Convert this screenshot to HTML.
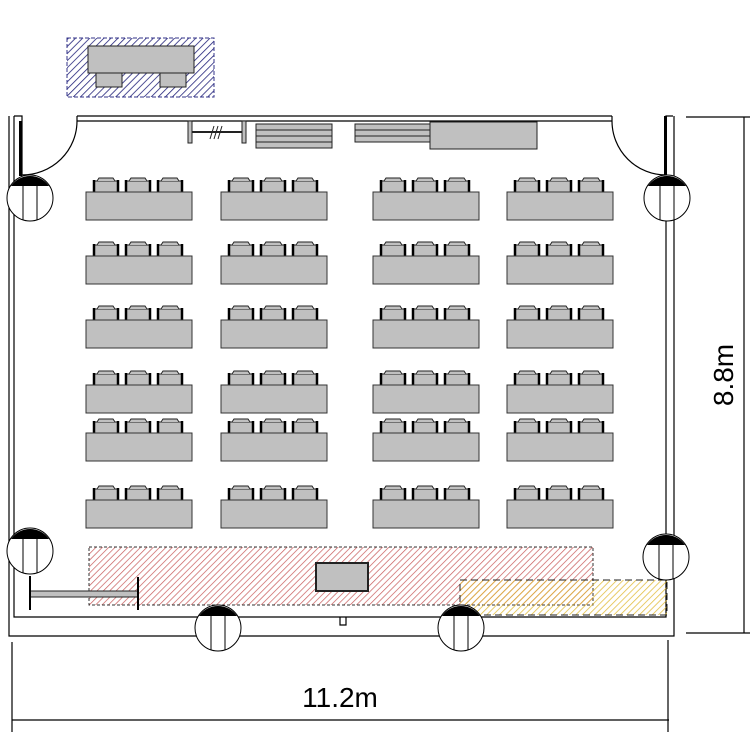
<!DOCTYPE html>
<html><head><meta charset="utf-8"><style>html,body{margin:0;padding:0;background:#fff}svg{display:block}</style></head>
<body>
<svg width="750" height="750" viewBox="0 0 750 750" xmlns="http://www.w3.org/2000/svg">
<defs>
<pattern id="hb" width="5" height="5" patternUnits="userSpaceOnUse" patternTransform="rotate(45)"><line x1="0" y1="0" x2="0" y2="5" stroke="#22227a" stroke-width="1.6"/></pattern>
<pattern id="hr" width="4.5" height="4.5" patternUnits="userSpaceOnUse" patternTransform="rotate(45)"><line x1="0" y1="0" x2="0" y2="5" stroke="#c85a5a" stroke-width="1.4"/></pattern>
<pattern id="hy" width="4.5" height="4.5" patternUnits="userSpaceOnUse" patternTransform="rotate(45)"><line x1="0" y1="0" x2="0" y2="5" stroke="#e0b830" stroke-width="1.6"/></pattern>
<g id="chair"><rect x="0" y="3" width="24" height="11" fill="#c0c0c0" stroke="#222" stroke-width="1"/><path d="M3 3 L5 0 H19 L21 3" fill="#c0c0c0" stroke="#222"/><line x1="0" y1="2" x2="0" y2="14" stroke="#000" stroke-width="2.5"/><line x1="24" y1="2" x2="24" y2="14" stroke="#000" stroke-width="2.5"/></g>
<g id="tbl"><use href="#chair" x="8" y="-14"/><use href="#chair" x="40" y="-14"/><use href="#chair" x="72" y="-14"/><rect x="0" y="0" width="106" height="28" fill="#c0c0c0" stroke="#333" stroke-width="1"/></g>
<g id="col"><circle cx="0" cy="0" r="23" fill="#fff" stroke="#000" stroke-width="1"/><path d="M-19 -12 A23 23 0 0 1 19 -12 Z" fill="#000"/><line x1="-7" y1="-12" x2="-7" y2="22" stroke="#000"/><line x1="7" y1="-12" x2="7" y2="22" stroke="#000"/></g>
</defs>

<rect x="67" y="38" width="147" height="59" fill="url(#hb)" stroke="#33338a" stroke-dasharray="4 2"/>
<rect x="96" y="72" width="26" height="15" fill="#c0c0c0" stroke="#222"/><rect x="160" y="72" width="26" height="15" fill="#c0c0c0" stroke="#222"/>
<rect x="88" y="46" width="106" height="27" fill="#c0c0c0" stroke="#222"/>

<g stroke="#000" stroke-width="1.2" fill="none">
<path d="M77 116 H612 M77 121 H612 M77 116 V121 M612 116 V121"/>
<path d="M9 116 V636 H674 V116 M14 116 H22 V140 M14 116 V617 H666 V116 H673"/>
<path d="M22 140 V175"/>
<path d="M77 121 A55 54 0 0 1 22 175"/>
<path d="M612 121 A54 54 0 0 0 666 175"/>
<path d="M340 617 V625 H346 V617"/>
</g>
<rect x="664" y="116" width="3" height="60" fill="#000"/>
<rect x="19" y="121" width="3" height="55" fill="#000"/>

<g stroke="#222" stroke-width="1">
<rect x="188" y="121" width="4" height="22" fill="#c0c0c0"/><rect x="242" y="121" width="4" height="22" fill="#c0c0c0"/>
<line x1="192" y1="132" x2="242" y2="132" stroke-width="2"/>
<path d="M210 139 L214 126 M214 139 L218 126 M218 139 L222 126"/>
<rect x="256" y="124" width="76" height="24" fill="#c0c0c0"/>
<path d="M256 130 H332 M256 136 H332 M256 142 H332"/>
<rect x="355" y="124" width="76" height="18" fill="#c0c0c0"/>
<path d="M355 130 H431 M355 136 H431"/>
<rect x="430" y="122" width="107" height="27" fill="#c0c0c0"/>
</g>

<g>
<use href="#tbl" x="86" y="192"/><use href="#tbl" x="221" y="192"/><use href="#tbl" x="373" y="192"/><use href="#tbl" x="507" y="192"/>
<use href="#tbl" x="86" y="256"/><use href="#tbl" x="221" y="256"/><use href="#tbl" x="373" y="256"/><use href="#tbl" x="507" y="256"/>
<use href="#tbl" x="86" y="320"/><use href="#tbl" x="221" y="320"/><use href="#tbl" x="373" y="320"/><use href="#tbl" x="507" y="320"/>
<use href="#tbl" x="86" y="385"/><use href="#tbl" x="221" y="385"/><use href="#tbl" x="373" y="385"/><use href="#tbl" x="507" y="385"/>
<use href="#tbl" x="86" y="433"/><use href="#tbl" x="221" y="433"/><use href="#tbl" x="373" y="433"/><use href="#tbl" x="507" y="433"/>
<use href="#tbl" x="86" y="500"/><use href="#tbl" x="221" y="500"/><use href="#tbl" x="373" y="500"/><use href="#tbl" x="507" y="500"/>
</g>

<rect x="89" y="547" width="504" height="58" fill="url(#hr)" stroke="#333" stroke-dasharray="3 2"/>
<rect x="460" y="580" width="207" height="35" fill="url(#hy)" fill-opacity="0.9" stroke="#222" stroke-dasharray="7 4"/>
<rect x="316" y="563" width="52" height="28" fill="#c0c0c0" stroke="#222" stroke-width="2"/>
<rect x="30" y="591" width="108" height="6" fill="#c0c0c0" stroke="#222"/>
<line x1="30" y1="576" x2="30" y2="610" stroke="#000" stroke-width="2"/>
<line x1="138" y1="577" x2="138" y2="610" stroke="#000" stroke-width="2"/>

<use href="#col" x="30" y="198"/><use href="#col" x="667" y="198"/>
<use href="#col" x="30" y="551"/><use href="#col" x="666" y="557"/>
<use href="#col" x="218" y="628"/><use href="#col" x="461" y="628"/>

<g stroke="#000" stroke-width="1.2">
<line x1="744" y1="117" x2="744" y2="633"/>
<line x1="686" y1="117" x2="750" y2="117"/>
<line x1="686" y1="633" x2="750" y2="633"/>
<line x1="12" y1="720" x2="669" y2="720"/>
<line x1="12" y1="642" x2="12" y2="732"/>
<line x1="668" y1="640" x2="668" y2="732"/>
</g>
<text x="340" y="707" font-family="Liberation Sans, sans-serif" font-size="28" text-anchor="middle" fill="#000">11.2m</text>
<text transform="translate(733,375) rotate(-90)" font-family="Liberation Sans, sans-serif" font-size="28" text-anchor="middle" fill="#000">8.8m</text>
</svg>
</body></html>
